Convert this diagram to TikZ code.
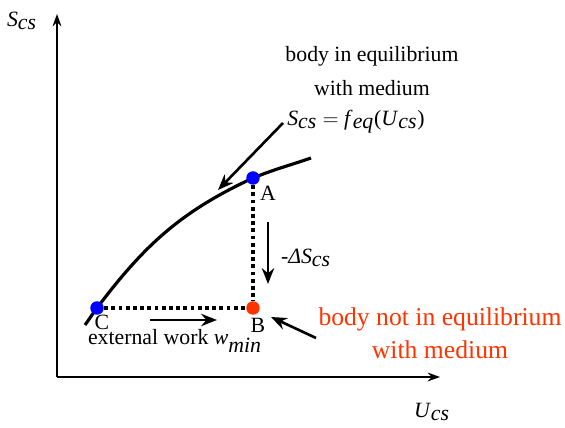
\documentclass[tikz,border=0pt]{standalone}
\usepackage{fontspec}
\setmainfont{Liberation Serif}
\usetikzlibrary{arrows.meta, positioning}

\definecolor{hotred}{RGB}{255,51,0}
\newcommand{\varsub}[2]{\textit{#1}$_{\textit{#2}}$}

\begin{document}
\begin{tikzpicture}[
x=0.02cm, y=-0.02cm,
txt/.style={font=\fontsize{12.4}{19.2}\selectfont, inner sep=0pt},
redtxt/.style={font=\fontsize{14.6}{18.8}\selectfont, inner sep=0pt, align=center, text=hotred},
dot/.style={circle, fill=#1, minimum size=0.27cm, inner sep=0pt},
axis/.style={-{Stealth[length=7pt, width=5pt]}, line width=1.1pt},
arrow/.style={-{Stealth[length=9pt, width=7pt]}, line width=1.5pt},
curve/.style={line width=1.8pt},
dots/.style={line width=2.2pt, dash pattern=on 2.2pt off 1.9pt}
]
\useasboundingbox (0,0) rectangle (565,428);

% axes
\coordinate (origin) at (57,377);
\coordinate (ytop) at (57,14);
\coordinate (xend) at (440,377);
\draw[axis] (origin) -- (ytop);
\draw[axis] (origin) -- (xend);
\node[txt] (ylabel) at (22,21) {\varsub{S}{cs}};
\node[txt] (xlabel) at (432,412) {\varsub{U}{cs}};

% equilibrium curve with the three states
\coordinate (cstart) at (85,325);
\coordinate (cC) at (97,308);
\coordinate (cA) at (253,178);
\coordinate (cend) at (311,158);
\draw[curve] (cstart) to[out=54,in=233] (cC) to[out=53,in=205] (cA) to[out=22,in=199] (cend);
\node[dot=blue] (C) at (cC) {};
\node[dot=blue] (A) at (cA) {};
\node[dot=hotred] (B) at (253,308) {};
\draw[dots] (A) -- (B);
\draw[dots] (C) -- (B);
\node[txt] (Alabel) at (268,193) {A};
\node[txt] (Blabel) at (258,325) {B};
\node[txt] (Clabel) at (102,322) {C};

% entropy drop
\coordinate (dstop) at (268,222);
\coordinate (dsbot) at (268,284);
\draw[arrow] (dstop) -- (dsbot);
\node[txt] (dS) at (306,258) {-\textit{Δ}\varsub{S}{cs}};

% external work
\coordinate (wstart) at (150,320);
\coordinate (wend) at (217,320);
\draw[arrow] (wstart) -- (wend);
\node[txt] (work) at (175,341) {external work \varsub{w}{min}};

% annotations
\node[txt, align=center] (eqtext) at (372,71) {body in equilibrium\\with medium};
\node[txt] (feq) at (356,122) {\varsub{S}{cs} $=$ \varsub{f}{eq}(\varsub{U}{cs})};
\coordinate (feqtail) at (283,123);
\coordinate (feqtip) at (218,190);
\draw[arrow] (feqtail) -- (feqtip);

\node[redtxt] (neqtext) at (440,333) {body not in equilibrium\\with medium};
\coordinate (neqtail) at (316,338);
\coordinate (neqtip) at (271,317);
\draw[arrow] (neqtail) -- (neqtip);

\end{tikzpicture}
\end{document}
